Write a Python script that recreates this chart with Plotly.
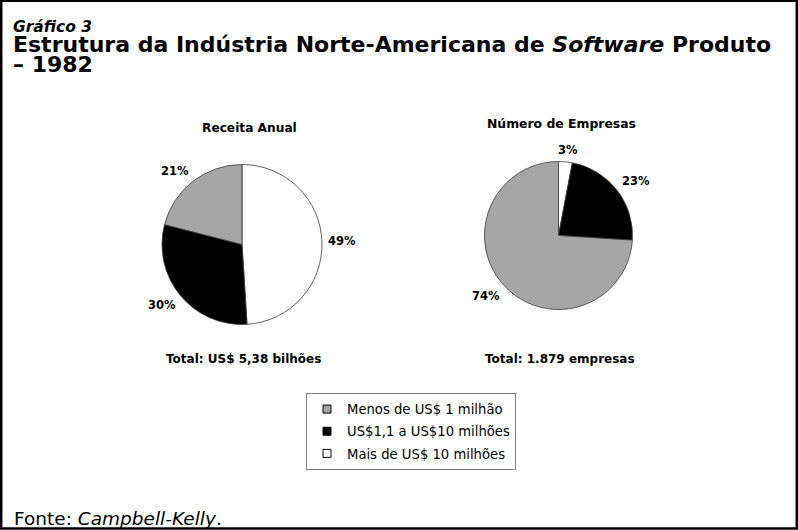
import math
import plotly.graph_objects as go

W, H = 798, 530

# Categories and shares (%) for the two pies
categorias = ["Menos de US$ 1 milhão", "US$1,1 a US$10 milhões", "Mais de US$ 10 milhões"]
receita_anual = [21, 30, 49]
numero_empresas = [74, 23, 3]

titulo_receita = "Receita Anual"
titulo_empresas = "Número de Empresas"
total_receita = "Total: US$ 5,38 bilhões"
total_empresas = "Total: 1.879 empresas"

cores = ["#a6a6a6", "#000000", "#ffffff"]
FONT = "DejaVu Sans, Verdana, sans-serif"


def px_x(v):
    return v / W


def px_y(v):
    return 1 - v / H


def pie_domain(cx, cy, r):
    return dict(x=[px_x(cx - r), px_x(cx + r)], y=[px_y(cy + r), px_y(cy - r)])


def pct_labels(values, cx, cy, r, size, gap=6):
    """Percent labels just outside each slice at its mid-angle.
    Slices run counterclockwise from 12 o'clock in category order."""
    anns = []
    total = sum(values)
    start = 0.0
    for v in values:
        mid = (start + v / 2) / total * 2 * math.pi
        start += v
        dx = -math.sin(mid)
        dy = -math.cos(mid)  # screen y grows downward
        R = r + gap
        px, py = cx + dx * R, cy + dy * R
        text = f"{v}%"
        hw = 0.5 * size * (0.7 * (len(text) - 1) + 1.0)
        hh = size * 0.5
        sx = max(-1, min(1, dx * 2))
        sy = max(-1, min(1, dy * 2))
        anns.append(dict(x=px_x(px + hw * sx), y=px_y(py + hh * sy), xref="paper", yref="paper",
                         text=f"<b>{text}</b>", showarrow=False, xanchor="center", yanchor="middle",
                         font=dict(family=FONT, size=size, color="#000")))
    return anns


L_CX, L_CY, L_R = 242, 244.5, 80
R_CX, R_CY, R_R = 558.5, 235.5, 74

fig = go.Figure()

# Slices laid clockwise from 12 o'clock in reverse category order, which is
# the same as category order running counterclockwise from 12 o'clock.
for vals, (cx, cy, r) in [(receita_anual, (L_CX, L_CY, L_R)), (numero_empresas, (R_CX, R_CY, R_R))]:
    fig.add_trace(go.Pie(
        labels=categorias[::-1], values=vals[::-1], sort=False, direction="clockwise", rotation=0,
        marker=dict(colors=cores[::-1], line=dict(color="#3a3a3a", width=0.8)),
        textinfo="none", hoverinfo="label+percent", showlegend=False,
        domain=pie_domain(cx, cy, r),
    ))

# Legend entries with small square swatches (one group each for even spacing)
for i, (nome, cor) in enumerate(zip(categorias, cores)):
    fig.add_trace(go.Scatter(
        x=[None], y=[None], mode="markers", name=nome, legendgroup=f"g{i}",
        marker=dict(symbol="square", size=8, color=cor, line=dict(color="#000", width=1)),
    ))

titulo = ("<b><i><span style='font-size:15.5px'>Gráfico 3</span></i></b><br>"
          "<b><span style='font-size:22px'>Estrutura da Indústria Norte-Americana de <i>Software</i> Produto</span></b><br>"
          "<b><span style='font-size:22px'>– 1982</span></b>")

annotations = [
    dict(x=px_x(11), y=px_y(16), text=titulo, xanchor="left", yanchor="top", align="left",
         font=dict(family=FONT, size=15.5, color="#000")),
    dict(x=px_x(249.5), y=px_y(128), text=f"<b>{titulo_receita}</b>", xanchor="center", yanchor="middle",
         font=dict(family=FONT, size=12.2, color="#000")),
    dict(x=px_x(561), y=px_y(123.5), text=f"<b>{titulo_empresas}</b>", xanchor="center", yanchor="middle",
         font=dict(family=FONT, size=12.4, color="#000")),
    dict(x=px_x(243.5), y=px_y(359), text=f"<b>{total_receita}</b>", xanchor="center", yanchor="middle",
         font=dict(family=FONT, size=12, color="#000")),
    dict(x=px_x(560), y=px_y(358.5), text=f"<b>{total_empresas}</b>", xanchor="center", yanchor="middle",
         font=dict(family=FONT, size=12, color="#000")),
    dict(x=px_x(12), y=px_y(518), text="Fonte: <i>Campbell-Kelly</i>.", xanchor="left", yanchor="middle",
         font=dict(family=FONT, size=18.5, color="#000")),
]
for a in annotations:
    a.update(xref="paper", yref="paper", showarrow=False)

annotations += pct_labels(receita_anual, L_CX, L_CY, L_R, 11.5)
annotations += pct_labels(numero_empresas, R_CX, R_CY, R_R, 11.5)

fig.update_layout(
    width=W, height=H,
    margin=dict(l=0, r=0, t=0, b=0),
    paper_bgcolor="#ffffff", plot_bgcolor="#ffffff",
    xaxis=dict(visible=False), yaxis=dict(visible=False),
    annotations=annotations,
    showlegend=True,
    legend=dict(x=px_x(306), y=px_y(393), xanchor="left", yanchor="top",
                bordercolor="#808080", borderwidth=1, bgcolor="#ffffff", tracegroupgap=2,
                font=dict(family=FONT, size=13.2, color="#000"), itemclick=False, itemdoubleclick=False),
    shapes=[dict(type="rect", xref="paper", yref="paper",
                 x0=px_x(1.2), x1=px_x(796.8), y0=px_y(528.5), y1=px_y(0.8),
                 line=dict(color="#000", width=2.5), fillcolor="rgba(0,0,0,0)")],
)

fig.write_html("out.html")
